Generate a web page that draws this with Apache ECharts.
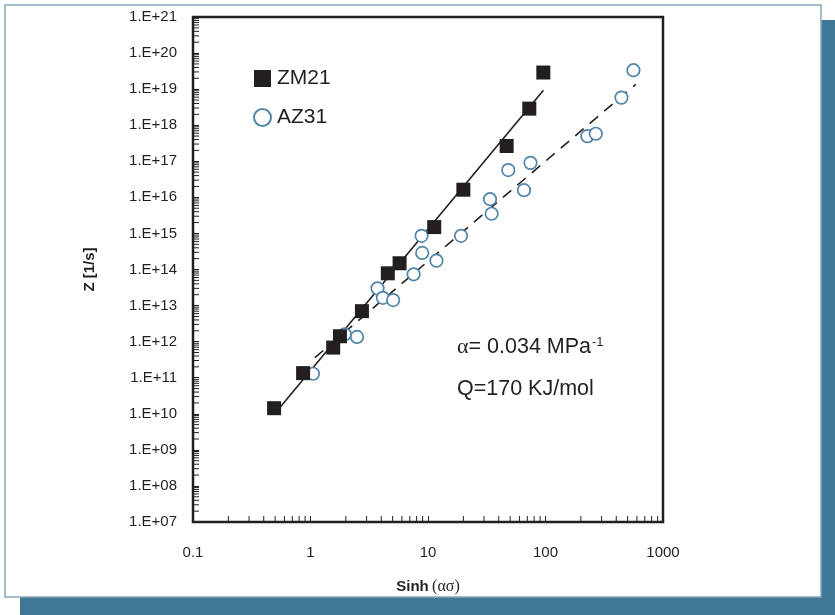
<!DOCTYPE html>
<html>
<head>
<meta charset="utf-8">
<script src="https://cdn.jsdelivr.net/npm/echarts@6/dist/echarts.min.js"></script>
<style>
  html, body { margin: 0; padding: 0; background: #fff; }
  #chart { width: 835px; height: 615px; }
</style>
</head>
<body>
<div id="chart"></div>
<script>
// values
const zm21X = [0.49, 0.865, 1.56, 1.78, 2.74, 4.55, 5.73, 11.3, 20.0, 46.7, 72.8, 95.8]
const zm21Z = [1.43e10, 1.34e11, 6.84e11, 1.41e12, 7.0e12, 7.84e13, 1.49e14, 1.50e15, 1.63e16, 2.65e17, 2.88e18, 2.89e19]
const az31X = [1.05, 1.96, 2.49, 3.72, 4.13, 5.05, 7.54, 8.82, 8.93, 11.8, 19.1, 33.7, 34.8, 48.2, 65.6, 74.5, 227, 268, 443, 560]
const az31Z = [1.29e11, 1.60e12, 1.35e12, 3.0e13, 1.64e13, 1.42e13, 7.36e13, 8.57e14, 2.88e14, 1.76e14, 8.57e14, 8.89e15, 3.51e15, 5.70e16, 1.58e16, 9.04e16, 4.97e17, 5.80e17, 5.82e18, 3.35e19]
// fit lines (end points)
const zm21FitX = [0.5, 96]
const zm21FitZ = [1.03e10, 9.3e18]
const az31FitX = [1.09, 586]
const az31FitZ = [3.6e11, 1.36e19]

const xTickLabels = ['0.1', '1', '10', '100', '1000']
const yTickLabels = ['1.E+07', '1.E+08', '1.E+09', '1.E+10', '1.E+11', '1.E+12', '1.E+13', '1.E+14',
  '1.E+15', '1.E+16', '1.E+17', '1.E+18', '1.E+19', '1.E+20', '1.E+21']
const xDecades = [-1, 0, 1, 2]
const yDecades = [7, 8, 9, 10, 11, 12, 13, 14, 15, 16, 17, 18, 19, 20]
const minorSteps = [2, 3, 4, 5, 6, 7, 8, 9]

const xMin = 0.1, xMax = 1000, yMin = 1e7, yMax = 1e21
const ink = '#231f20'
const blue = '#4f85a7'
const font = '"Liberation Sans", Arial, sans-serif'

const pairs = (xs, ys) => xs.map((x, i) => [x, ys[i]])
const xMinor = []
xDecades.forEach(e => minorSteps.forEach(k => xMinor.push([k * Math.pow(10, e), yMin])))
const yMinor = []
yDecades.forEach(e => minorSteps.forEach(k => yMinor.push([xMin, k * Math.pow(10, e)])))

const chart = echarts.init(document.getElementById('chart'))

let option = {
  animation: false,
  backgroundColor: '#fff',
  textStyle: { fontFamily: font, color: ink },
  grid: {
    left: 193, right: 172, top: 17, bottom: 93,
    show: true, borderColor: ink, borderWidth: 2.5
  },
  legend: {
    data: ['ZM21', 'AZ31'],
    orient: 'vertical',
    left: 248,
    top: 63,
    itemWidth: 17,
    itemHeight: 17,
    itemGap: 18,
    textStyle: { fontSize: 21, color: ink, fontFamily: font, padding: [0, 0, 0, 1] }
  },
  xAxis: {
    type: 'log',
    logBase: 10,
    min: xMin,
    max: xMax,
    interval: 1,
    axisLine: { show: false },
    axisTick: { show: true, inside: true, length: 6, lineStyle: { color: ink, width: 1 } },
    splitLine: { show: false },
    axisLabel: {
      margin: 23,
      fontSize: 15,
      color: ink,
      formatter: v => xTickLabels[Math.round(Math.log10(v)) + 1]
    },
    name: '{b|Sinh} {g|(ασ)}',
    nameLocation: 'middle',
    nameGap: 57,
    nameTextStyle: {
      rich: {
        b: { fontSize: 15, fontWeight: 'bold', color: ink, fontFamily: font },
        g: { fontSize: 16, color: ink, fontFamily: '"Liberation Serif", serif' }
      }
    }
  },
  yAxis: {
    type: 'log',
    logBase: 10,
    min: yMin,
    max: yMax,
    interval: 1,
    axisLine: { show: false },
    axisTick: { show: true, inside: true, length: 6, lineStyle: { color: ink, width: 1 } },
    splitLine: { show: false },
    axisLabel: {
      margin: 16,
      fontSize: 15,
      color: ink,
      formatter: v => yTickLabels[Math.round(Math.log10(v)) - 7]
    },
    name: 'Z [1/s]',
    nameLocation: 'middle',
    nameRotate: 90,
    nameGap: 96,
    nameTextStyle: { fontSize: 15, fontWeight: 'bold', color: ink }
  },
  graphic: [
    { type: 'rect', z: -20, silent: true, shape: { x: 20, y: 20, width: 815, height: 595 }, style: { fill: '#3f7896' } },
    { type: 'rect', z: -10, silent: true, shape: { x: 5, y: 5, width: 816, height: 592 }, style: { fill: '#fff', stroke: '#86a8bd', lineWidth: 1.5 } },
    {
      type: 'text', z: 100, left: 457, top: 336,
      style: {
        text: '{g|α}= 0.034 MPa{s|-1}',
        fill: ink,
        font: '21.5px ' + font,
        rich: {
          g: { fontSize: 22, fontFamily: '"Liberation Serif", serif', fill: ink },
          s: { fontSize: 13, verticalAlign: 'top', padding: [0, 0, 10, 1], fill: ink }
        }
      }
    },
    {
      type: 'text', z: 100, left: 457, top: 378,
      style: { text: 'Q=170 KJ/mol', fill: ink, font: '21.5px ' + font }
    }
  ],
  series: [
    {
      type: 'custom', name: 'xminor', silent: true, clip: false, z: 5,
      data: xMinor,
      renderItem: (params, api) => {
        const p = api.coord([api.value(0), api.value(1)])
        return { type: 'line', shape: { x1: p[0], y1: p[1], x2: p[0], y2: p[1] - 6 }, style: { stroke: ink, lineWidth: 1 } }
      }
    },
    {
      type: 'custom', name: 'yminor', silent: true, clip: false, z: 5,
      data: yMinor,
      renderItem: (params, api) => {
        const p = api.coord([api.value(0), api.value(1)])
        return { type: 'line', shape: { x1: p[0], y1: p[1], x2: p[0] + 6, y2: p[1] }, style: { stroke: ink, lineWidth: 1 } }
      }
    },
    {
      type: 'line', name: 'ZM21 fit', z: 2, silent: true,
      data: pairs(zm21FitX, zm21FitZ),
      symbol: 'none',
      lineStyle: { color: ink, width: 1.6, type: 'solid' }
    },
    {
      type: 'line', name: 'AZ31 fit', z: 2, silent: true,
      data: pairs(az31FitX, az31FitZ),
      symbol: 'none',
      lineStyle: { color: ink, width: 1.6, type: [11, 8] }
    },
    {
      type: 'scatter', name: 'AZ31', z: 3,
      data: pairs(az31X, az31Z),
      symbol: 'circle',
      symbolSize: 12.5,
      itemStyle: { color: '#fff', borderColor: blue, borderWidth: 1.7, opacity: 1 }
    },
    {
      type: 'scatter', name: 'ZM21', z: 4,
      data: pairs(zm21X, zm21Z),
      symbol: 'rect',
      symbolSize: 14,
      itemStyle: { color: ink, opacity: 1 }
    }
  ]
}

chart.setOption(option)
</script>
</body>
</html>
